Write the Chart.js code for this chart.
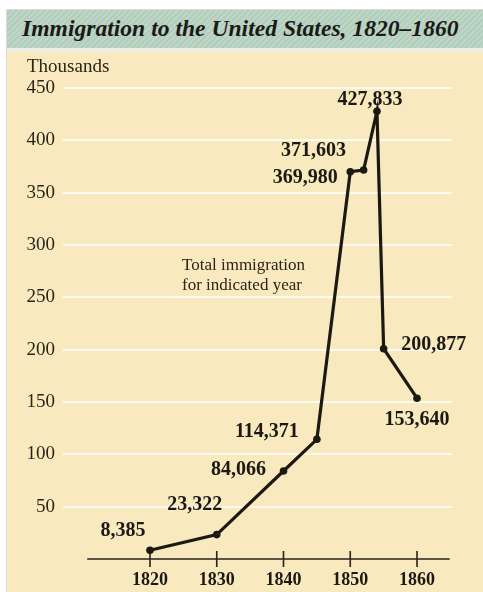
<!DOCTYPE html>
<html>
<head>
<meta charset="utf-8">
<script src="https://cdn.jsdelivr.net/npm/chart.js@4.4.1/dist/chart.umd.min.js"></script>
<style>
  html, body { margin: 0; padding: 0; background: #fff; }
  #frame { position: absolute; left: 6px; top: 9px; width: 477px; height: 583px;
    border-left: 1px solid #d9d9d9; border-top: 1px solid #d9d9d9; background: #f8e9bf; }
  #title { position: absolute; left: 7px; top: 10px; width: 476px; height: 38px; box-sizing: border-box;
    padding-left: 15px; padding-top: 5px; line-height: 36px; color: #1b1a16;
    font: italic bold 23.6px "Liberation Serif", serif; white-space: nowrap; overflow: hidden;
    background: repeating-linear-gradient(135deg, #bdd6c6 0 2px, #b2cdbb 2px 4px); }
  #strip { position: absolute; left: 7px; top: 48px; width: 476px; height: 4px; background: #efeee5; }
  #wrap { position: absolute; left: 7px; top: 52px; width: 476px; height: 540px; }
</style>
</head>
<body>
<div id="frame"></div>
<div id="title">Immigration to the United States, 1820–1860</div>
<div id="strip"></div>
<div id="wrap"><canvas id="chart" width="476" height="540"></canvas></div>
<script>
// immigration per year, in thousands
const years = [1820, 1830, 1840, 1845, 1850, 1852, 1854, 1855, 1860];
const immigrants = [8.385, 23.322, 84.066, 114.371, 369.98, 371.603, 427.833, 200.877, 153.64];
const valueLabels = ['8,385', '23,322', '84,066', '114,371', '369,980', '371,603', '427,833', '200,877', '153,640'];
const xTicks = [1820, 1830, 1840, 1850, 1860];
const yTicks = [50, 100, 150, 200, 250, 300, 350, 400, 450];

// where each value label sits relative to its point (px)
const labelOffsets = [[-27, -19], [-22, -30], [-45, -1], [-50, -7], [-45, 6], [-50, -19], [-7, -11], [50, -4], [0, 22]];

const ink = '#1c1812';
const serif = '"Liberation Serif", serif';

// x axis drawn as a line with ticks crossing it, like the printed figure
const axisPlugin = {
  id: 'axisLine',
  beforeDatasetsDraw(chart) {
    const { ctx, scales: { x, y } } = chart;
    const y0 = y.getPixelForValue(0);
    ctx.save();
    ctx.strokeStyle = '#2a241b';
    ctx.lineWidth = 1.6;
    ctx.beginPath();
    ctx.moveTo(x.getPixelForValue(1810.6), y0);
    ctx.lineTo(x.getPixelForValue(1864.9), y0);
    xTicks.forEach(v => {
      const px = x.getPixelForValue(v);
      ctx.moveTo(px, y0 - 8);
      ctx.lineTo(px, y0 + 8);
    });
    ctx.stroke();
    ctx.restore();
  }
};

const labelPlugin = {
  id: 'valueLabels',
  afterDatasetsDraw(chart) {
    const { ctx } = chart;
    const meta = chart.getDatasetMeta(0);
    ctx.save();
    ctx.fillStyle = ink;
    ctx.font = 'bold 20px ' + serif;
    ctx.textAlign = 'center';
    ctx.textBaseline = 'middle';
    meta.data.forEach((pt, i) => {
      ctx.fillText(valueLabels[i], pt.x + labelOffsets[i][0], pt.y + labelOffsets[i][1]);
    });
    // unit label and note
    ctx.textAlign = 'left';
    ctx.textBaseline = 'alphabetic';
    ctx.fillStyle = '#2b2519';
    ctx.font = '19px ' + serif;
    ctx.fillText('Thousands', 20, 20);
    ctx.font = '17px ' + serif;
    ctx.fillText('Total immigration', 175, 218);
    ctx.fillText('for indicated year', 175, 238);
    ctx.restore();
  }
};

new Chart(document.getElementById('chart'), {
  type: 'line',
  data: {
    datasets: [{
      data: years.map((yr, i) => ({ x: yr, y: immigrants[i] })),
      borderColor: ink,
      backgroundColor: ink,
      borderWidth: 3.2,
      pointRadius: 3.8,
      pointBackgroundColor: ink,
      pointBorderWidth: 0,
      tension: 0
    }]
  },
  options: {
    responsive: false,
    animation: false,
    layout: { padding: { top: 36, right: 31, left: 0, bottom: 0 } },
    plugins: { legend: { display: false }, tooltip: { enabled: false } },
    scales: {
      x: {
        type: 'linear',
        min: 1806.97,
        max: 1865.24,
        afterBuildTicks: s => { s.ticks = xTicks.map(v => ({ value: v })); },
        afterFit: s => { s.height = 33; },
        grid: { display: false },
        border: { display: false },
        ticks: { padding: 3, color: ink, font: { family: serif, size: 18, weight: 'bold' }, callback: v => String(v) }
      },
      y: {
        min: 0,
        max: 450,
        afterBuildTicks: s => { s.ticks = yTicks.map(v => ({ value: v })); },
        afterFit: s => { s.width = 56; },
        grid: { color: 'rgba(255,255,255,0.75)', lineWidth: 2, drawTicks: false },
        border: { display: false },
        ticks: { padding: 8, color: '#2b2519', font: { family: serif, size: 19 } }
      }
    }
  },
  plugins: [axisPlugin, labelPlugin]
});
</script>
</body>
</html>
